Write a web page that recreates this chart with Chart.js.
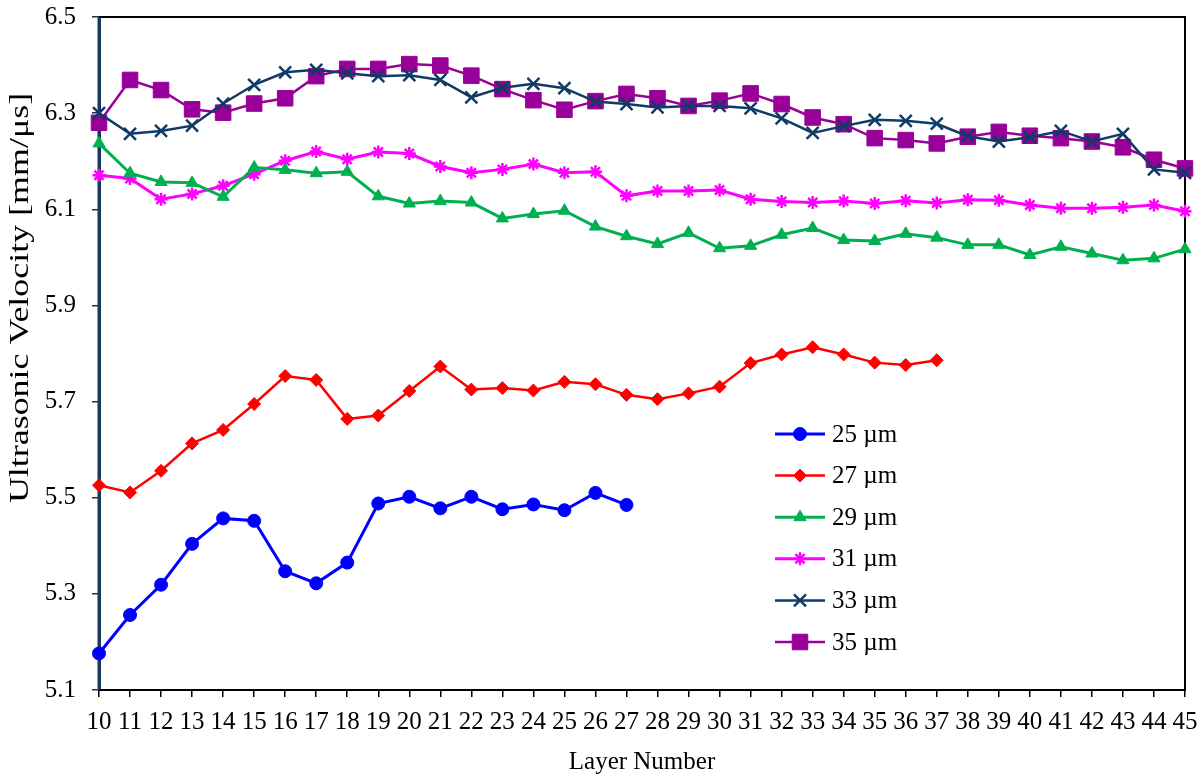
<!DOCTYPE html>
<html>
<head>
<meta charset="utf-8">
<script src="https://cdn.jsdelivr.net/npm/chart.js@4.4.1/dist/chart.umd.min.js"></script>
<style>
  html, body { margin: 0; padding: 0; background: #fff; }
  #wrap { width: 1203px; height: 777px; }
</style>
</head>
<body>
<div id="wrap"><canvas id="chart" width="1203" height="777"></canvas></div>
<script>
// layer numbers on the x axis
var layers = [10, 11, 12, 13, 14, 15, 16, 17, 18, 19, 20, 21, 22, 23, 24, 25, 26, 27,
  28, 29, 30, 31, 32, 33, 34, 35, 36, 37, 38, 39, 40, 41, 42, 43, 44, 45];

// ultrasonic velocity [mm/us] per layer
var v25 = [5.176, 5.256, 5.319, 5.404, 5.457, 5.452, 5.347, 5.322, 5.365, 5.488,
  5.502, 5.478, 5.502, 5.476, 5.486, 5.474, 5.510, 5.485];
var v27 = [5.526, 5.511, 5.556, 5.613, 5.641, 5.695, 5.753, 5.745, 5.664, 5.671,
  5.722, 5.773, 5.725, 5.728, 5.723, 5.741, 5.736, 5.714, 5.705, 5.717,
  5.731, 5.780, 5.798, 5.813, 5.798, 5.781, 5.776, 5.786];
var v29 = [6.237, 6.175, 6.157, 6.155, 6.126, 6.187, 6.182, 6.175, 6.178, 6.127,
  6.112, 6.117, 6.114, 6.081, 6.090, 6.097, 6.064, 6.044, 6.028, 6.051,
  6.019, 6.024, 6.047, 6.061, 6.036, 6.034, 6.049, 6.041, 6.026, 6.026,
  6.005, 6.022, 6.008, 5.994, 5.998, 6.017];
var v31 = [6.171, 6.164, 6.121, 6.132, 6.149, 6.173, 6.201, 6.220, 6.204, 6.219,
  6.216, 6.189, 6.176, 6.183, 6.194, 6.176, 6.178, 6.128, 6.138, 6.138,
  6.140, 6.121, 6.116, 6.114, 6.117, 6.112, 6.118, 6.113, 6.120, 6.119,
  6.109, 6.102, 6.102, 6.104, 6.109, 6.096];
var v33 = [6.300, 6.257, 6.263, 6.274, 6.320, 6.359, 6.385, 6.390, 6.383, 6.377,
  6.379, 6.369, 6.333, 6.353, 6.361, 6.352, 6.324, 6.319, 6.312, 6.315,
  6.315, 6.310, 6.289, 6.259, 6.273, 6.286, 6.284, 6.278, 6.252, 6.241,
  6.250, 6.263, 6.241, 6.257, 6.183, 6.176];
var v35 = [6.280, 6.369, 6.348, 6.308, 6.301, 6.320, 6.331, 6.377, 6.392, 6.392,
  6.402, 6.399, 6.378, 6.350, 6.327, 6.307, 6.325, 6.340, 6.331, 6.315,
  6.326, 6.341, 6.319, 6.291, 6.277, 6.248, 6.244, 6.237, 6.251, 6.261,
  6.253, 6.248, 6.241, 6.229, 6.203, 6.185];

var seriesNames = ['25 \u00b5m', '27 \u00b5m', '29 \u00b5m', '31 \u00b5m', '33 \u00b5m', '35 \u00b5m'];
var yTicks = [5.1, 5.3, 5.5, 5.7, 5.9, 6.1, 6.3, 6.5];

var FONT = '"Liberation Serif", "Times New Roman", serif';
var NAVY = '#17375E';

function series(label, data, color, style, radius, lw, ptBorder) {
  return {
    label: label,
    data: data,
    borderColor: color,
    backgroundColor: color,
    borderWidth: lw,
    pointStyle: style,
    pointRadius: radius,
    pointHoverRadius: radius,
    pointBorderWidth: ptBorder,
    pointBackgroundColor: color,
    pointBorderColor: color,
    tension: 0,
    fill: false,
    clip: false
  };
}

// stretch = how much longer than normal the text runs (the y title is drawn long)
function drawText(ctx, str, x, y, align, size, rotated, stretch) {
  ctx.save();
  ctx.translate(x, y);
  if (rotated) ctx.rotate(-Math.PI / 2);
  if (stretch) ctx.scale(stretch, 1);
  ctx.fillStyle = '#000';
  ctx.font = size + 'px ' + FONT;
  ctx.textAlign = align;
  ctx.textBaseline = 'middle';
  ctx.fillText(str, 0, 0);
  ctx.restore();
}

// black frame on top / right / bottom, navy left axis
var framePlugin = {
  id: 'frame',
  beforeDatasetsDraw: function (chart) {
    var a = chart.chartArea, ctx = chart.ctx;
    ctx.save();
    ctx.strokeStyle = '#000';
    ctx.lineWidth = 2;
    ctx.beginPath();
    ctx.moveTo(a.left, a.top);
    ctx.lineTo(a.right, a.top);
    ctx.lineTo(a.right, a.bottom);
    ctx.lineTo(a.left, a.bottom);
    ctx.stroke();
    ctx.strokeStyle = NAVY;
    ctx.lineWidth = 3;
    ctx.beginPath();
    ctx.moveTo(a.left, a.top);
    ctx.lineTo(a.left, a.bottom);
    ctx.stroke();
    ctx.restore();
  }
};

// tick labels, axis titles and the legend
var textPlugin = {
  id: 'texts',
  afterDraw: function (chart) {
    var ctx = chart.ctx;
    var xs = chart.scales.x, ys = chart.scales.y;

    yTicks.forEach(function (v) {
      drawText(ctx, v.toFixed(1), 76, ys.getPixelForValue(v), 'right', 25);
    });
    layers.forEach(function (l, i) {
      drawText(ctx, String(l), xs.getPixelForTick(i), 722, 'center', 25);
    });
    drawText(ctx, 'Layer Number', (xs.left + xs.right) / 2, 762, 'center', 25);
    drawText(ctx, 'Ultrasonic Velocity [mm/\u03bcs]', 21, 298, 'center', 27, true, 1.33);

    var x0 = 775, x1 = 825, yStart = 434, dy = 41.6;
    chart.data.datasets.forEach(function (ds, i) {
      var y = yStart + i * dy;
      ctx.save();
      ctx.strokeStyle = ds.borderColor;
      ctx.lineWidth = ds.borderWidth;
      ctx.beginPath();
      ctx.moveTo(x0, y);
      ctx.lineTo(x1, y);
      ctx.stroke();
      ctx.fillStyle = ds.pointBackgroundColor;
      ctx.strokeStyle = ds.pointBorderColor;
      ctx.lineWidth = ds.pointBorderWidth;
      Chart.helpers.drawPoint(ctx, {
        pointStyle: ds.pointStyle,
        radius: ds.pointRadius,
        rotation: 0,
        borderWidth: ds.pointBorderWidth
      }, (x0 + x1) / 2, y);
      ctx.restore();
      drawText(ctx, ds.label, x1 + 7, y + 1, 'left', 25);
    });
  }
};

var ctx = document.getElementById('chart').getContext('2d');
new Chart(ctx, {
  type: 'line',
  data: {
    labels: layers,
    datasets: [
      series(seriesNames[0], v25, '#0000FF', 'circle', 6.5, 3, 1),
      series(seriesNames[1], v27, '#FF0000', 'rectRot', 6.5, 2.5, 1),
      series(seriesNames[2], v29, '#00B050', 'triangle', 7, 3, 1),
      series(seriesNames[3], v31, '#FF00FF', 'star', 6.5, 3, 2.5),
      series(seriesNames[4], v33, '#0F3B66', 'crossRot', 8.5, 2.5, 2.5),
      series(seriesNames[5], v35, '#990099', 'rect', 11, 2.5, 1)
    ]
  },
  options: {
    responsive: false,
    animation: false,
    events: [],
    layout: { padding: { left: 0, right: 18, top: 17, bottom: 0 } },
    plugins: {
      legend: { display: false },
      tooltip: { enabled: false }
    },
    scales: {
      x: {
        type: 'category',
        offset: false,
        grid: { drawOnChartArea: false, tickLength: 7, color: '#000', lineWidth: 1.5 },
        border: { display: true, color: '#000', width: 2 },
        ticks: { display: false, autoSkip: false, maxRotation: 0 },
        afterFit: function (scale) { scale.height = 87; }
      },
      y: {
        min: 5.1,
        max: 6.5,
        afterBuildTicks: function (scale) {
          scale.ticks = yTicks.map(function (v) { return { value: v }; });
        },
        grid: { drawOnChartArea: false, tickLength: 7, color: NAVY, lineWidth: 1.5 },
        border: { display: true, color: NAVY, width: 3 },
        ticks: { display: false },
        afterFit: function (scale) { scale.width = 99; }
      }
    }
  },
  plugins: [framePlugin, textPlugin]
});
</script>
</body>
</html>
